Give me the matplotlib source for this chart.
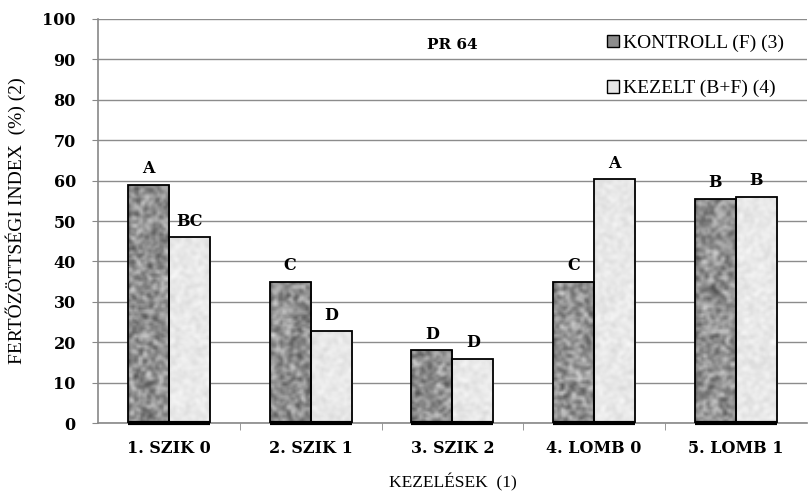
import numpy as np
import matplotlib
matplotlib.use('Agg')
import matplotlib.pyplot as plt
from matplotlib.patches import Patch

plt.rcParams['font.family'] = ['Liberation Serif', 'DejaVu Serif']

categories = ['1. SZIK 0', '2. SZIK 1', '3. SZIK 2', '4. LOMB 0', '5. LOMB 1']
kontroll = [59, 35, 18, 35, 55.5]
kezelt = [46, 22.7, 16, 60.3, 56]
kontroll_letters = ['A', 'C', 'D', 'C', 'B']
kezelt_letters = ['BC', 'D', 'D', 'A', 'B']
series_names = ['KONTROLL (F) (3)', 'KEZELT (B+F) (4)']

bold_font = dict(family=['DejaVu Serif'], fontweight='bold')


def texture(shape, base, amp, seed):
    # hash-style speckle pattern on a coarse grid, to mimic the granite fill
    yy, xx = np.mgrid[0:shape[0], 0:shape[1]].astype(float)
    n = np.sin(xx * 12.9898 + yy * 78.233 + seed * 37.719) * 43758.5453
    n = n - np.floor(n)
    k = np.array([0.25, 0.5, 0.25])
    n = np.apply_along_axis(lambda r: np.convolve(r, k, mode='same'), 0, n)
    n = np.apply_along_axis(lambda r: np.convolve(r, k, mode='same'), 1, n)
    n = (n - 0.5) * 2.8
    return np.clip(base + amp * n, 0, 1)


def textured_bars(ax, x, heights, width, base, amp, seed):
    bars = ax.bar(x, heights, width, color='none', edgecolor='black',
                  linewidth=1.3, zorder=4)
    for i, b in enumerate(bars):
        x0, w, h = b.get_x(), b.get_width(), b.get_height()
        img = texture((int(h * 2) + 2, 20), base, amp, seed + i)
        im = ax.imshow(img, cmap='gray', vmin=0, vmax=1, extent=(x0, x0 + w, 0, h),
                       aspect='auto', origin='lower', zorder=3, interpolation='bilinear')
        im.set_clip_path(b)
        ax.plot([x0, x0 + w], [0, 0], color='black', linewidth=3,
                solid_capstyle='butt', zorder=5, clip_on=False)
    return bars


fig = plt.figure(figsize=(8.1, 4.95), dpi=100)
ax = fig.add_axes([0.121, 0.145, 0.875, 0.817])

x = np.arange(len(categories))
w = 0.29
textured_bars(ax, x - w / 2, kontroll, w, 0.57, 0.25, 1)
textured_bars(ax, x + w / 2, kezelt, w, 0.91, 0.06, 11)

for xi, v, t in zip(x - w / 2, kontroll, kontroll_letters):
    ax.text(xi, v + 1.8, t, ha='center', va='bottom', fontsize=11.5, zorder=5, **bold_font)
for xi, v, t in zip(x + w / 2, kezelt, kezelt_letters):
    ax.text(xi, v + 1.8, t, ha='center', va='bottom', fontsize=11.5, zorder=5, **bold_font)

ax.set_xlim(-0.5, len(categories) - 0.5)
ax.set_ylim(0, 100)
ax.set_yticks(range(0, 101, 10))
ax.set_xticks(x)
ax.set_xticklabels(categories, fontsize=11.5, **bold_font)
ax.set_xticks(np.arange(0.5, len(categories) - 0.5, 1), minor=True)
ax.tick_params(axis='x', which='major', length=0, pad=12)
ax.tick_params(axis='x', which='minor', length=5, color='#888888', direction='out')
ax.tick_params(axis='y', length=4, color='#888888', pad=12)
for lab in ax.get_yticklabels():
    lab.set_fontfamily(['DejaVu Serif'])
    lab.set_fontweight('bold')
    lab.set_fontsize(11.5)

ax.grid(axis='y', color='#8c8c8c', linewidth=1.0, zorder=0)
ax.set_axisbelow(True)
for s in ['top', 'right']:
    ax.spines[s].set_visible(False)
ax.spines['left'].set_color('#888888')
ax.spines['left'].set_linewidth(1.2)
ax.spines['bottom'].set_color('#888888')
ax.spines['bottom'].set_linewidth(1.2)

ax.set_ylabel('FERTŐZÖTTSÉGI INDEX  (%) (2)', fontsize=14)
ax.yaxis.set_label_coords(-0.102, 0.5)
ax.set_xlabel('KEZELÉSEK  (1)', fontsize=12.5, labelpad=12)

ax.text(2.0, 93.5, 'PR 64', ha='center', va='center', fontsize=11, **bold_font)

handles = [Patch(facecolor='#8c8c8c', edgecolor='black'),
           Patch(facecolor='#e6e6e6', edgecolor='black')]
ax.legend(handles, series_names, loc='upper right', bbox_to_anchor=(0.985, 0.99),
          frameon=False, fontsize=14, handlelength=0.6, handleheight=0.6,
          handletextpad=0.25, labelspacing=1.45, borderaxespad=0.2)

fig.savefig('out.png', dpi=100)
